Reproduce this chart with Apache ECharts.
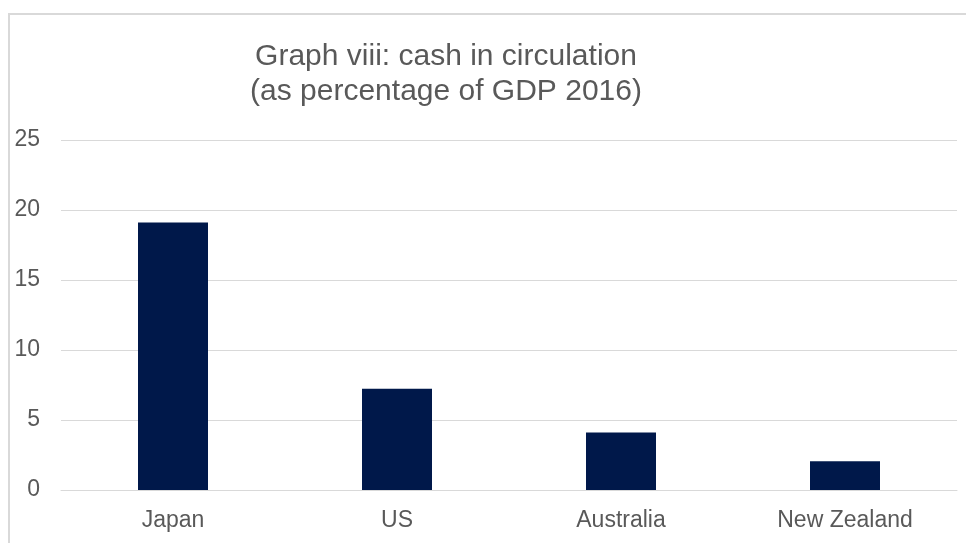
<!DOCTYPE html>
<html>
<head>
<meta charset="utf-8">
<script src="https://cdn.jsdelivr.net/npm/echarts@6/dist/echarts.min.js"></script>
<style>
  html, body { margin: 0; padding: 0; background: #fff; }
  #chart { width: 966px; height: 543px; }
</style>
</head>
<body>
<div id="chart"></div>
<script>
// datos
var paises = ['Japan', 'US', 'Australia', 'New Zealand'];
var efectivo = [19.1, 7.24, 4.1, 2.05];
var ejeMin = 0;
var ejeMax = 25;
var ejeIntervalo = 5;

var fuente = 'Liberation Sans';
var gris = '#595959';

var myChart = echarts.init(document.getElementById('chart'));

myChart.setOption({
    animation: false,
    // marco gris del grafico original
    graphic: [{
        type: 'rect',
        shape: { x: 9, y: 14, width: 1000, height: 600 },
        style: { fill: 'none', stroke: '#d9d9d9', lineWidth: 2 },
        silent: true
    }],
    title: {
        text: 'Graph viii: cash in circulation\n(as percentage of GDP 2016)',
        left: 441,
        top: 34,
        textAlign: 'center',
        textStyle: {
            fontFamily: fuente,
            fontSize: 30,
            fontWeight: 'normal',
            color: gris,
            lineHeight: 35
        }
    },
    grid: {
        left: 61,
        right: 9,
        top: 140,
        bottom: 53,
        containLabel: false
    },
    xAxis: {
        type: 'category',
        data: paises,
        axisTick: { show: false },
        axisLine: { lineStyle: { color: '#d9d9d9', width: 1 } },
        axisLabel: {
            margin: 19,
            fontFamily: fuente,
            fontSize: 23,
            color: gris
        }
    },
    yAxis: {
        type: 'value',
        min: ejeMin,
        max: ejeMax,
        interval: ejeIntervalo,
        axisLine: { show: false },
        axisTick: { show: false },
        splitLine: { lineStyle: { color: '#d9d9d9', width: 1 } },
        axisLabel: {
            margin: 21,
            padding: [4, 0, 0, 0],
            fontFamily: fuente,
            fontSize: 23,
            color: gris
        }
    },
    series: [{
        type: 'bar',
        data: efectivo,
        barWidth: 70,
        itemStyle: { color: '#00184a' }
    }]
});
</script>
</body>
</html>
